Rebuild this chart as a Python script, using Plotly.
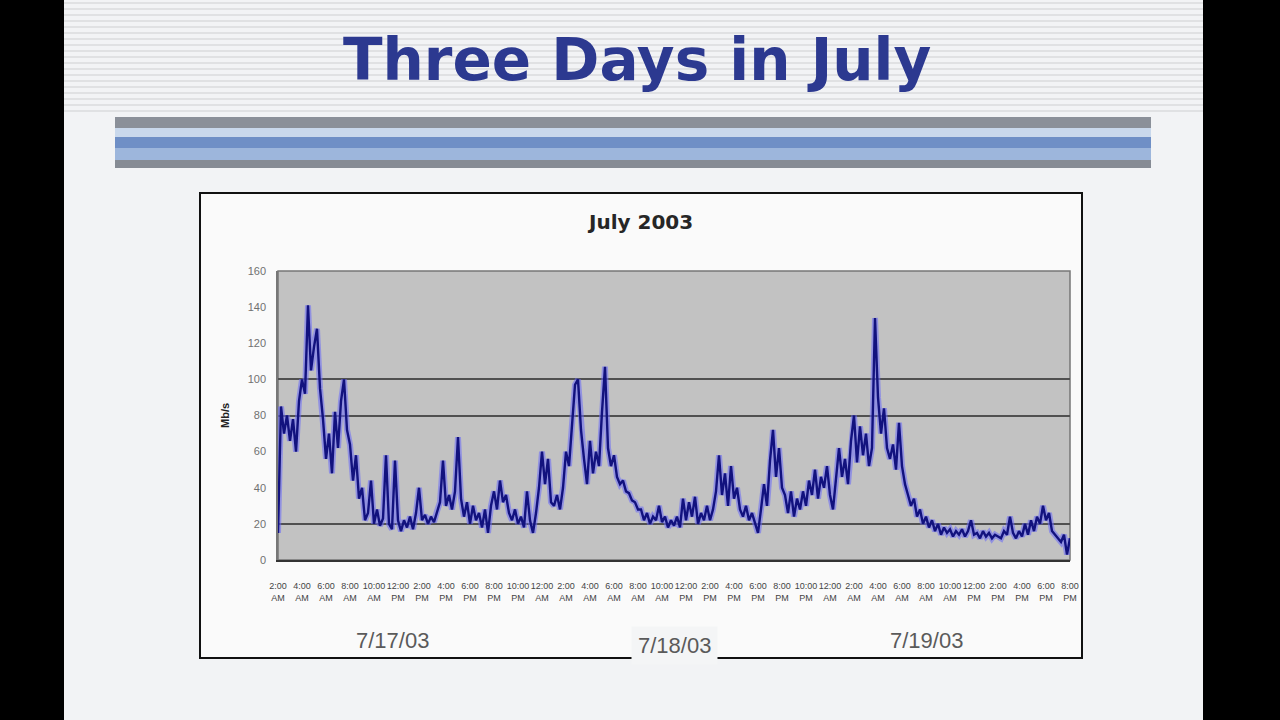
import pandas as pd
import plotly.graph_objects as go

# ---------------- data ----------------
chart_title = "July 2003"
slide_title = "Three Days in July"
y_title = "Mb/s"
start_time = "2003-07-17 02:00"
sample_step = "15min"
day_labels = ["7/17/03", "7/18/03", "7/19/03"]
day_label_times = ["2003-07-17 11:30", "2003-07-18 11:00", "2003-07-19 08:00"]
y_ticks = [0, 20, 40, 60, 80, 100, 120, 140, 160]
grid_values = [20, 80, 100]

traffic = [
    15, 85, 70, 80, 66, 78, 60, 88, 100, 92, 141, 105, 118, 128, 95, 78, 56, 70, 48, 82,
    62, 88, 100, 72, 64, 44, 58, 34, 40, 22, 26, 44, 20, 28, 19, 23, 58, 20, 17, 55,
    22, 16, 22, 18, 24, 17, 26, 40, 22, 25, 20, 24, 21, 27, 32, 55, 30, 36, 28, 38,
    68, 34, 24, 32, 20, 30, 22, 26, 18, 28, 15, 30, 38, 28, 44, 32, 36, 26, 22, 28,
    20, 24, 18, 38, 22, 15, 26, 40, 60, 42, 56, 32, 30, 36, 28, 40, 60, 52, 75, 97,
    100, 72, 56, 42, 66, 48, 60, 52, 82, 107, 62, 52, 58, 46, 42, 44, 38, 37, 33, 32,
    28, 28, 22, 26, 20, 24, 22, 30, 21, 24, 18, 22, 19, 24, 18, 34, 22, 32, 24, 35,
    20, 26, 22, 30, 22, 28, 38, 58, 36, 48, 30, 52, 34, 40, 28, 24, 30, 22, 26, 20,
    15, 28, 42, 30, 55, 72, 46, 62, 40, 36, 26, 38, 24, 34, 28, 38, 30, 44, 36, 50,
    34, 46, 40, 52, 36, 28, 44, 62, 46, 56, 42, 66, 80, 54, 74, 58, 70, 52, 62, 134,
    90, 70, 84, 62, 56, 64, 50, 76, 52, 42, 36, 30, 34, 24, 28, 20, 24, 18, 22, 16,
    20, 14, 18, 15, 17, 13, 16, 14, 17, 13, 16, 22, 14, 15, 12, 16, 13, 15, 12, 14,
    13, 12, 16, 14, 24, 15, 12, 16, 13, 20, 14, 22, 16, 24, 20, 30, 22, 26, 16, 14,
    12, 10, 14, 3, 12,
]

times = pd.date_range(start_time, periods=len(traffic), freq=sample_step)
tick_times = pd.date_range(start_time, times[-1], freq="2h")
tick_text = [f"{t.hour % 12 or 12}:{t.minute:02d}<br>{'AM' if t.hour < 12 else 'PM'}" for t in tick_times]

# ---------------- layout geometry (pixels) ----------------
W, H = 1280, 720
L, R, T, B = 278, 1070, 271, 560


def px(x):
    return (x - L) / (R - L)


def py(y):
    return (B - y) / (B - T)


def rect(x0, y0, x1, y1, fill, line_color=None, line_width=0):
    return dict(type="rect", xref="paper", yref="paper", layer="below",
                x0=px(x0), x1=px(x1), y0=py(y1), y1=py(y0),
                fillcolor=fill,
                line=dict(color=line_color or fill, width=line_width))


def hline(x0, x1, y, color, width):
    return dict(type="line", xref="paper", yref="paper", layer="below",
                x0=px(x0), x1=px(x1), y0=py(y), y1=py(y),
                line=dict(color=color, width=width))


shapes = []
# slide
shapes.append(rect(64, 0, 1203, 720, "#f2f3f5"))
# header stripes
for yy in range(3, 116, 6):
    shapes.append(hline(64, 1203, yy, "#e0e1e3", 2))
# header band
shapes.append(rect(115, 117, 1151, 128, "#8b9099"))
shapes.append(rect(115, 128, 1151, 137, "#c9d8ec"))
shapes.append(rect(115, 137, 1151, 148, "#6f8fc6"))
shapes.append(rect(115, 148, 1151, 160, "#9db6dc"))
shapes.append(rect(115, 160, 1151, 168, "#868b94"))
# chart frame
shapes.append(rect(200, 193, 1082, 658, "#fafafa", "#111111", 2))
# plot area
shapes.append(rect(L, T, R, B, "#c2c2c2", "#777777", 1.5))

fig = go.Figure()
fig.add_trace(go.Scatter(x=times, y=traffic, mode="lines", yaxis="y",
                         line=dict(color="rgba(105,105,250,0.55)", width=6),
                         hoverinfo="skip", showlegend=False))
fig.add_trace(go.Scatter(x=times, y=traffic, mode="lines", yaxis="y2",
                         line=dict(color="#12127e", width=2.4),
                         showlegend=False))

annotations = [
    dict(text=f"<b>{slide_title}</b>", xref="paper", yref="paper",
         x=px(637), y=py(60), xanchor="center", yanchor="middle", showarrow=False,
         font=dict(family="DejaVu Sans", size=58, color="#2c3990")),
    dict(text=f"<b>{chart_title}</b>", xref="paper", yref="paper",
         x=px(640), y=py(222), xanchor="center", yanchor="middle", showarrow=False,
         font=dict(family="DejaVu Sans", size=20, color="#262626")),
    dict(text=f"<b>{y_title}</b>", xref="paper", yref="paper",
         x=px(225), y=py(416), xanchor="center", yanchor="middle", showarrow=False,
         textangle=-90,
         font=dict(family="Liberation Sans", size=11, color="#222222")),
]
for lab, t in zip(day_labels, day_label_times):
    is_mid = lab == day_labels[1]
    annotations.append(dict(
        text=lab, x=t, xref="x", yref="paper",
        y=py(645 if is_mid else 640), xanchor="center", yanchor="middle",
        showarrow=False,
        font=dict(family="Liberation Sans", size=22, color="#5a5a5a"),
        bgcolor="#f4f5f6" if is_mid else None, borderpad=6 if is_mid else 0,
    ))

fig.update_layout(
    width=W, height=H,
    margin=dict(l=L, r=W - R, t=T, b=H - B, pad=0),
    paper_bgcolor="#000000",
    plot_bgcolor="rgba(0,0,0,0)",
    shapes=shapes,
    annotations=annotations,
    showlegend=False,
    xaxis=dict(type="date", range=[times[0], times[-1]],
               tickvals=tick_times, ticktext=tick_text, tickangle=0,
               tickfont=dict(family="Liberation Sans", size=9, color="#444444"),
               ticklabelstandoff=16,
               showgrid=False, zeroline=False, showline=True,
               linecolor="#333333", linewidth=2, ticks=""),
    yaxis=dict(range=[0, 160], tickvals=y_ticks, showgrid=False, zeroline=False,
               tickfont=dict(family="Liberation Sans", size=11, color="#707070"),
               ticklabelstandoff=8,
               showline=True, linecolor="#777777", linewidth=1.5, ticks=""),
    yaxis2=dict(range=[0, 160], overlaying="y", side="left", tickvals=grid_values,
                showticklabels=False, showgrid=True, gridcolor="#505050",
                gridwidth=1.5, zeroline=False, showline=False, ticks=""),
)

fig.write_html(
    "out.html",
    config={"displayModeBar": False},
    post_script="document.body.style.margin='0';document.body.style.background='#000';",
)
